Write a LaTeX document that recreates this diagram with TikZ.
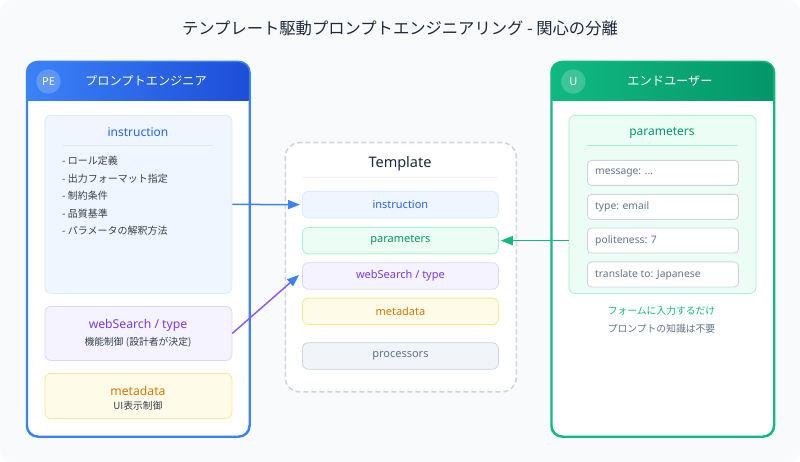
\documentclass[tikz,border=0pt]{standalone}
\usepackage{fontspec}
\setmainfont{Noto Sans}
\newfontfamily\jp{Noto Sans CJK JP}
\usetikzlibrary{arrows.meta,calc}
\definecolor{bgc}{HTML}{F8FAFC}
\definecolor{titlec}{HTML}{1E293B}
\definecolor{bluec}{HTML}{3B82F6}
\definecolor{blued}{HTML}{1D4ED8}
\definecolor{bluet}{HTML}{2563EB}
\definecolor{bluef}{HTML}{EFF6FF}
\definecolor{blueb}{HTML}{DBEAFE}
\definecolor{greenc}{HTML}{10B981}
\definecolor{greend}{HTML}{059669}
\definecolor{greenf}{HTML}{ECFDF5}
\definecolor{greenb}{HTML}{A7F3D0}
\definecolor{purplec}{HTML}{8B5CF6}
\definecolor{purplet}{HTML}{7C3AED}
\definecolor{purplef}{HTML}{F5F3FF}
\definecolor{purpleb}{HTML}{DDD6FE}
\definecolor{yellowf}{HTML}{FEFCE8}
\definecolor{yellowb}{HTML}{FDE68A}
\definecolor{oranget}{HTML}{D97706}
\definecolor{grayf}{HTML}{F1F5F9}
\definecolor{grayb}{HTML}{CBD5E1}
\definecolor{grayt}{HTML}{64748B}
\definecolor{itemt}{HTML}{374151}
\begin{document}
\begin{tikzpicture}[x=1pt,y=-1pt,
  rbox/.style={draw, rounded corners=6pt, line width=0.8pt, inner sep=0pt, anchor=north west},
  panelbox/.style={draw, fill=white, rounded corners=11pt, line width=1.5pt, inner sep=0pt, anchor=north west, minimum width=222pt, minimum height=374pt},
  field/.style={draw=grayb, fill=white, rounded corners=4pt, line width=0.8pt, inner sep=0pt, anchor=north west, minimum width=151pt, minimum height=25pt},
  fieldtxt/.style={anchor=west, inner sep=0pt, text=grayt, font=\fontsize{10.3}{12}\selectfont},
  tinner/.style={rbox, minimum width=196pt, minimum height=26.5pt},
  item/.style={anchor=west, inner sep=0pt, text=itemt, font=\jp\fontsize{10}{12}\selectfont},
  conn/.style={line width=1.5pt, -{Triangle[length=12pt,width=9pt]}}
]
\useasboundingbox (0,0) rectangle (800,462);
\fill[white] (0,0) rectangle (800,462);
\node[fill=bgc, rounded corners=12pt, inner sep=0pt, minimum width=800pt, minimum height=462pt, anchor=north west] (bg) at (0,0) {};

\node[text=titlec, font=\jp\fontsize{16.3}{19}\selectfont] (title) at (400,28) {テンプレート駆動プロンプトエンジニアリング - 関心の分離};

% ---------- left panel ----------
\node[panelbox, draw=bluec] (pe) at (26.5,61.5) {};
\begin{scope}
  \clip[rounded corners=11pt] (pe.north west) rectangle (pe.south east);
  \shade[left color=bluec, right color=blued] (pe.north west) rectangle (248.5,101);
\end{scope}
\draw[bluec, line width=1.5pt, rounded corners=11pt] (pe.north west) rectangle (pe.south east);
\node[circle, fill=white, fill opacity=0.2, text opacity=1, text=white, minimum size=24.5pt, inner sep=0pt, font=\fontsize{11}{13}\selectfont] (pecirc) at (48.5,81.5) {PE};
\node[text=white, font=\jp\fontsize{12.2}{14}\selectfont] (pehead) at (146,81) {プロンプトエンジニア};

\node[rbox, draw=blueb, fill=bluef, minimum width=187pt, minimum height=178pt] (linstr) at (44.5,115) {};
\node[text=bluet, font=\fontsize{12}{14}\selectfont] (linstrt) at (138,132.5) {instruction};
\draw[blueb, line width=0.6pt] (62,145.7) -- (213,145.7);
\node[item] (i1) at (62,161) {- ロール定義};
\node[item] (i2) at (62,178.5) {- 出力フォーマット指定};
\node[item] (i3) at (62,196) {- 制約条件};
\node[item] (i4) at (62,213.5) {- 品質基準};
\node[item] (i5) at (62,231) {- パラメータの解釈方法};

\node[rbox, draw=purpleb, fill=purplef, minimum width=187pt, minimum height=54pt] (lweb) at (44.5,306) {};
\node[text=purplet, font=\fontsize{12.2}{14}\selectfont] (lwebt) at (138,325) {webSearch / type};
\node[text=itemt, font=\jp\fontsize{9.8}{11}\selectfont] (lwebs) at (138,342.5) {機能制御 (設計者が決定)};

\node[rbox, draw=yellowb, fill=yellowf, minimum width=187pt, minimum height=45pt] (lmeta) at (44.5,373) {};
\node[text=oranget, font=\fontsize{12.2}{14}\selectfont] (lmetat) at (138,390.5) {metadata};
\node[text=itemt, font=\jp\fontsize{9.8}{11}\selectfont] (lmetas) at (138,405.5) {UI表示制御};

% ---------- template ----------
\node[draw=grayb, fill=white, dash pattern=on 5pt off 3pt, line width=1.5pt, rounded corners=14pt, inner sep=0pt, anchor=north west, minimum width=231pt, minimum height=249pt] (tpl) at (284.5,142) {};
\node[text=titlec, font=\fontsize{14.5}{17}\selectfont] (tplt) at (400,163.5) {Template};
\draw[grayf, line width=0.8pt] (302,177.5) -- (498,177.5);
\node[tinner, draw=blueb, fill=bluef] (tinstr) at (302,191) {};
\node[text=bluet, font=\fontsize{11}{13}\selectfont] at (tinstr.center) {instruction};
\node[tinner, draw=greenb, fill=greenf] (tparam) at (302,227) {};
\node[text=greend, font=\fontsize{11}{13}\selectfont] at (tparam.center) {parameters};
\node[tinner, draw=purpleb, fill=purplef] (tweb) at (302,262.3) {};
\node[text=purplet, font=\fontsize{11}{13}\selectfont] at (tweb.center) {webSearch / type};
\node[tinner, draw=yellowb, fill=yellowf] (tmeta) at (302,297.7) {};
\node[text=oranget, font=\fontsize{11}{13}\selectfont] at (tmeta.center) {metadata};
\node[tinner, draw=grayb, fill=grayf] (tproc) at (302,342.3) {};
\node[text=grayt, font=\fontsize{11}{13}\selectfont] at (tproc.center) {processors};

% ---------- right panel ----------
\node[panelbox, draw=greenc] (eu) at (551,61.5) {};
\begin{scope}
  \clip[rounded corners=11pt] (eu.north west) rectangle (eu.south east);
  \shade[left color=greenc, right color=greend] (eu.north west) rectangle (773,101);
\end{scope}
\draw[greenc, line width=1.5pt, rounded corners=11pt] (eu.north west) rectangle (eu.south east);
\node[circle, fill=white, fill opacity=0.2, text opacity=1, text=white, minimum size=24.5pt, inner sep=0pt, font=\fontsize{11}{13}\selectfont] (eucirc) at (573.3,81.5) {U};
\node[text=white, font=\jp\fontsize{12.2}{14}\selectfont] (euhead) at (670,81) {エンドユーザー};

\node[rbox, draw=greenb, fill=greenf, minimum width=187pt, minimum height=178pt] (rparam) at (568.5,115) {};
\node[text=greend, font=\fontsize{12}{14}\selectfont] (rparamt) at (662,132.5) {parameters};
\draw[greenb, line width=0.6pt] (586.5,145.7) -- (737.5,145.7);
\node[field] (f1) at (587,160) {};
\node[fieldtxt] at ($(f1.west)+(8,0)$) {message: ...};
\node[field] (f2) at (587,194) {};
\node[fieldtxt] at ($(f2.west)+(8,0)$) {type: email};
\node[field] (f3) at (587,227.7) {};
\node[fieldtxt] at ($(f3.west)+(8,0)$) {politeness: 7};
\node[field] (f4) at (587,261.5) {};
\node[fieldtxt] at ($(f4.west)+(8,0)$) {translate to: Japanese};
\node[text=greenc, font=\jp\fontsize{9.8}{11}\selectfont] (rnote1) at (661.5,311) {フォームに入力するだけ};
\node[text=grayt, font=\jp\fontsize{9.8}{11}\selectfont] (rnote2) at (661.5,329) {プロンプトの知識は不要};

% ---------- connectors ----------
\draw[conn, bluec] (linstr.east) -- ($(tinstr.west)+(-2,0)$);
\draw[line width=1.5pt, purplec, -{Triangle[length=12pt,width=9pt,color=bluec]}] (lweb.east) -- ($(tweb.west)+(-3,-1)$);
\coordinate (gstart) at (rparam.west |- tparam.east);
\draw[conn, greenc] (gstart) -- ($(tparam.east)+(2,0)$);
\end{tikzpicture}
\end{document}
